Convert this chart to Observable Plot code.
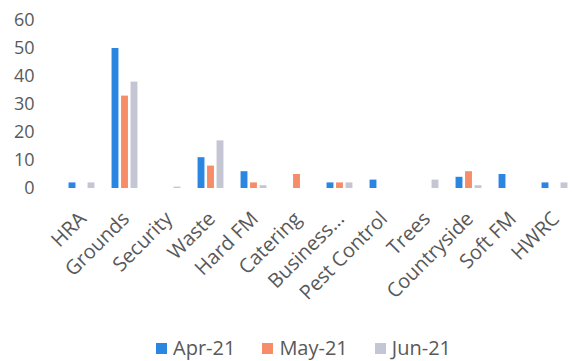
<!DOCTYPE html>
<html><head><meta charset="utf-8">
<script src="https://cdn.jsdelivr.net/npm/d3@7"></script>
<script src="https://cdn.jsdelivr.net/npm/@observablehq/plot@0.6"></script>
<style>
body{margin:0;background:#fff;font-family:"Open Sans",sans-serif;overflow:hidden}
#chart svg{display:block}
#legend{display:flex;align-items:center;height:24px;line-height:24px;padding-left:156px;font-size:20px;color:#595959}
.item{display:flex;align-items:center;margin-right:27px}
.sw{width:11px;height:11px;margin-right:6px}
</style></head><body>
<div id="chart"></div><div id="legend"></div>
<script>
const categories = ["HRA","Grounds","Security","Waste","Hard FM","Catering","Business...","Pest Control","Trees","Countryside","Soft FM","HWRC"];
const apr = [2,50,0,11,6,0,2,3,0,4,5,2];
const may = [0,33,0,8,2,5,2,0,0,6,0,0];
const jun = [2,38,0.5,17,1,0,2,0,3,1,0,2];
const seriesNames = ["Apr-21","May-21","Jun-21"];
const seriesColors = ["#2B86E2","#F78C68","#C5C6D3"];
const yTicks = [0,10,20,30,40,50,60];

const seriesValues = [apr, may, jun];
const bw = (579.7 - 56.5) / categories.length;
const barW = 7.5, step = 9.5;
const inset = (bw - barW) / 2;

const bars = seriesValues.map((vals, k) =>
  Plot.barY(
    categories.map((c, i) => ({cat: c, v: vals[i]})).filter(d => d.v > 0),
    {x: "cat", y: "v", fill: seriesColors[k], dx: (k - 1) * step, insetLeft: inset, insetRight: inset}
  )
);

const chart = Plot.plot({
  width: 572,
  height: 336,
  marginTop: 20,
  marginBottom: 148,
  marginLeft: 40,
  marginRight: 0,
  style: {fontFamily: "'Open Sans', sans-serif", fontSize: "18px", color: "#595959", background: "#fff", overflow: "hidden"},
  x: {domain: categories, range: [56.5, 579.7], padding: 0, axis: null},
  y: {domain: [0, 60], axis: null},
  marks: [
    ...bars,
    Plot.axisY({ticks: yTicks, tickSize: 0, tickPadding: 6, fontSize: 18, label: null}),
    Plot.axisX({tickRotate: -45, tickSize: 0, tickPadding: 27, dx: 1, fontSize: 20, label: null})
  ]
});
document.getElementById("chart").appendChild(chart);

const legend = document.getElementById("legend");
seriesNames.forEach((name, k) => {
  const item = document.createElement("div");
  item.className = "item";
  const sw = document.createElement("span");
  sw.className = "sw";
  sw.style.background = seriesColors[k];
  const t = document.createElement("span");
  t.textContent = name;
  item.appendChild(sw); item.appendChild(t);
  legend.appendChild(item);
});
</script>
</body></html>
